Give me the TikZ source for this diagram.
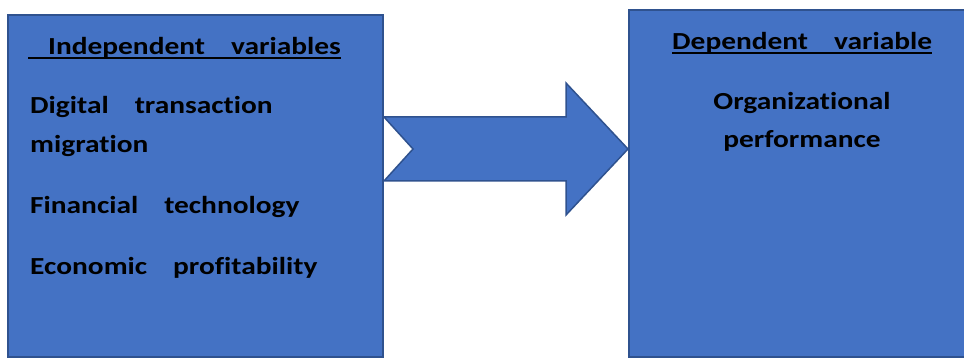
\documentclass[tikz,border=0pt]{standalone}
\usepackage{fontspec}
\setmainfont{Carlito}[FakeStretch=1.2,Ligatures=NoCommon]
\definecolor{boxfill}{HTML}{4472C4}
\definecolor{boxline}{HTML}{2F528F}
\newcommand\myul[3]{\setbox0\hbox{#3}\rlap{\rule[#1]{\wd0}{#2}}\box0}
\begin{document}
\begin{tikzpicture}[x=1pt,y=-1pt,
  panel/.style={draw=boxline,line width=2pt,fill=boxfill,inner sep=0pt},
  txt/.style={anchor=base west,inner sep=0pt,font=\fontsize{24.5}{29}\selectfont\bfseries,text=black},
  ctxt/.style={anchor=base,inner sep=0pt,font=\fontsize{24.5}{29}\selectfont\bfseries,text=black}]
\useasboundingbox (0,0) rectangle (964,358);
\clip (0,0) rectangle (964,358);
\node[panel,minimum width=375pt,minimum height=342pt] (L) at (195.5,186) {};
\node[panel,minimum width=337pt,minimum height=347pt] (R) at (797.5,183.5) {};
\draw[draw=boxline,line width=1.5pt,fill=boxfill,line join=miter]
  (L.east |- 0,117) -- (566,117) -- (566,83) -- (R.west |- 0,149) -- (566,215) -- (566,181)
  -- (L.east |- 0,181) -- (413,149) -- cycle;
\node[txt] (h1) at (28,54.5) {\myul{-5pt}{2.4pt}{\hspace{20pt}Independent\hspace{26pt}variables}};
\node[txt] (t1) at (30,114) {Digital\hspace{26pt}transaction};
\node[txt] (t2) at (30,153) {migration};
\node[txt] (t3) at (30,214) {Financial\hspace{26pt}technology};
\node[txt] (t4) at (30,274) {Economic\hspace{26pt}profitability};
\node[txt] (h2) at (672,50) {\myul{-4pt}{2.2pt}{Dependent\hspace{26pt}variable}};
\node[ctxt] (o1) at (802,110) {Organizational};
\node[ctxt] (o2) at (802,148) {performance};
\end{tikzpicture}
\end{document}
